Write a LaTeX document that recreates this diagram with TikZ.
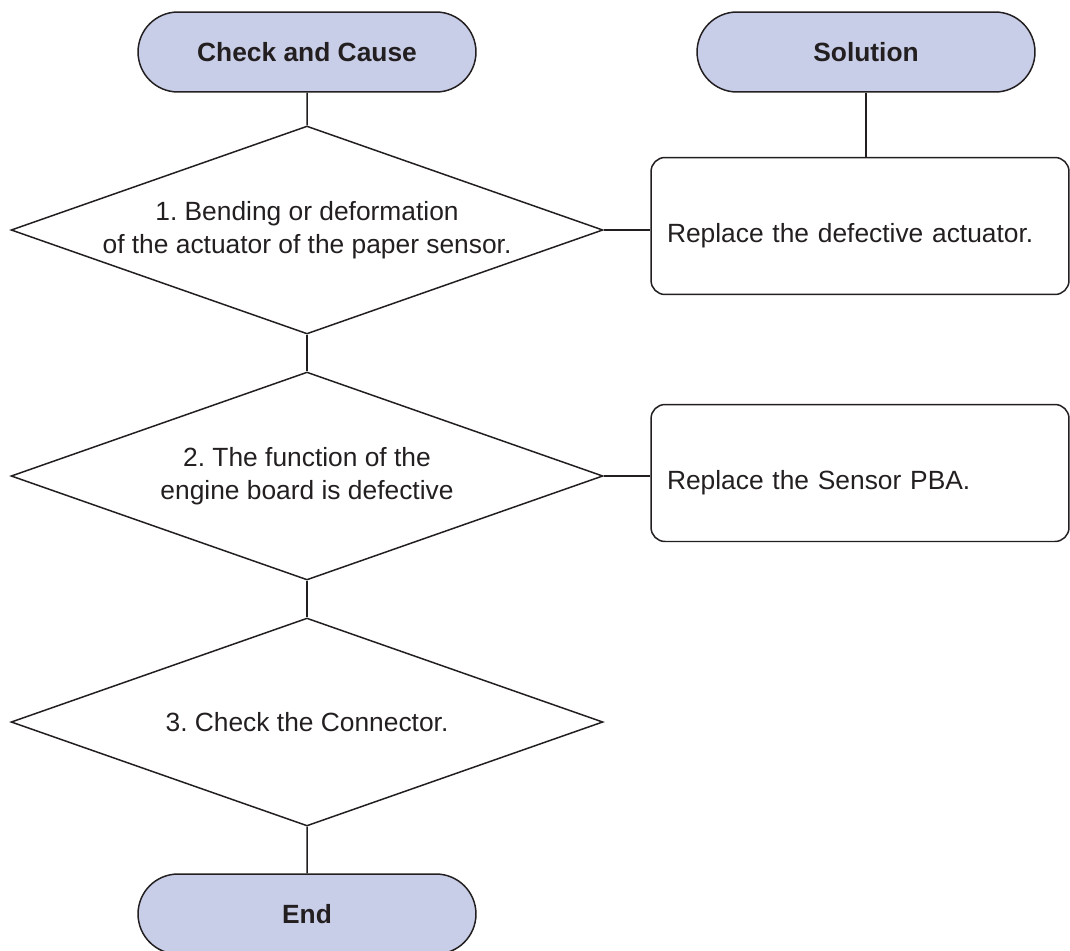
\documentclass[tikz,border=0pt]{standalone}
\usepackage{fontspec}
\setmainfont{Liberation Sans}
\frenchspacing
\usetikzlibrary{shapes.geometric,shapes.misc}
\definecolor{termfill}{HTML}{C9CEE8}
\definecolor{inkline}{HTML}{231F20}
\begin{document}
\begin{tikzpicture}[
                x=0.02cm, y=-0.02cm,
                every node/.style={
                        font=\fontsize{15}{19}\selectfont,
                        text=inkline,
                        align=center
                    },
                terminal/.style={
                        draw=inkline, line width=0.85pt, fill=termfill,
                        rounded rectangle,
                        minimum width=6.76cm, minimum height=1.6cm,
                        inner sep=0pt, font=\fontsize{15}{18}\selectfont\bfseries
                    },
                decision/.style={
                        draw=inkline, line width=0.85pt, diamond,
                        aspect=2.846,
                        minimum width=11.84cm, minimum height=4.16cm,
                        inner sep=0pt
                    },
                fixbox/.style={
                        draw=inkline, line width=0.85pt,
                        rounded corners=0.28cm,
                        minimum width=8.36cm, minimum height=2.74cm,
                        text width=7.72cm, align=left, inner xsep=0.32cm,
                        text height=0.8cm, text depth=0.16cm
                    },
                link/.style={draw=inkline, line width=0.85pt}
            ]

            \useasboundingbox (0, 0) rectangle (1070, 950);

            % Left column
            \node[terminal] (check) at (307, 52) {Check and Cause};
            \node[decision] (cause1) at (307, 230)
                {1. Bending or deformation\\of the actuator of the paper sensor.};
            \node[decision] (cause2) at (307, 476)
                {2. The function of the\\engine board is defective};
            \node[decision] (cause3) at (307, 722) {3. Check the Connector.};
            \node[terminal] (finish) at (307, 914) {End};

            % Right column
            \node[terminal] (solution) at (866, 52) {Solution};
            \node[fixbox] (fix1) at (860, 226) {Replace the defective actuator.};
            \node[fixbox] (fix2) at (860, 473) {Replace the Sensor PBA.};

            \draw[link] (check) -- (cause1);
            \draw[link] (cause1) -- (cause2);
            \draw[link] (cause2) -- (cause3);
            \draw[link] (cause3) -- (finish);
            \draw[link] (solution.south) -- (solution.south |- fix1.north);
            \draw[link] (cause1.east) -- (cause1.east -| fix1.west);
            \draw[link] (cause2.east) -- (cause2.east -| fix2.west);

        \end{tikzpicture}
\end{document}
